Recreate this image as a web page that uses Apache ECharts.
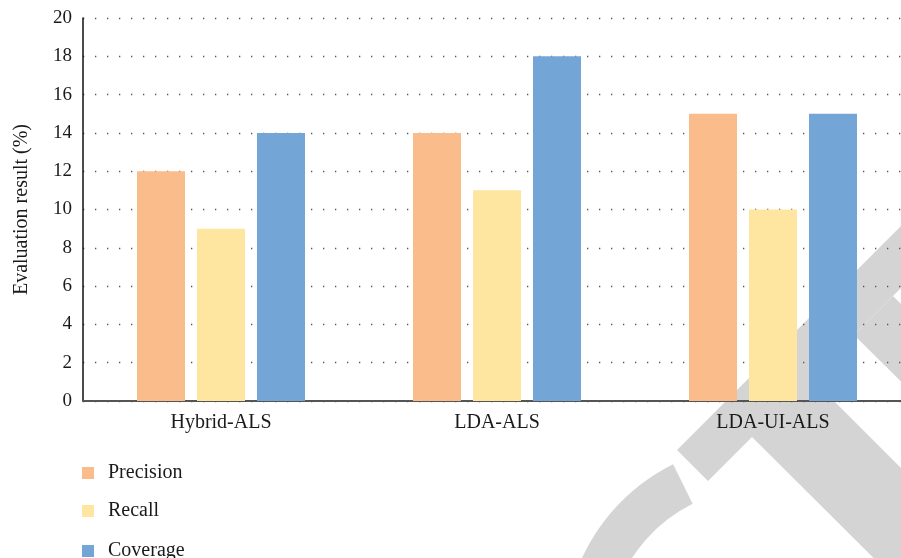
<!DOCTYPE html>
<html>
<head>
<meta charset="utf-8">
<script src="https://cdn.jsdelivr.net/npm/echarts@6/dist/echarts.min.js"></script>
<style>
  html, body { margin: 0; padding: 0; background: #ffffff; }
  #chart { width: 901px; height: 558px; }
</style>
</head>
<body>
<div id="chart"></div>
<script>
// Evaluation results of three ALS-based recommenders
const categories = ['Hybrid-ALS', 'LDA-ALS', 'LDA-UI-ALS'];
const precision = [12, 14, 15];
const recall = [9, 11, 10];
const coverage = [14, 18, 15];
const seriesNames = ['Precision', 'Recall', 'Coverage'];
const seriesColors = ['#F9BC8A', '#FEE6A1', '#73A6D7'];

const serif = '"Liberation Serif", "DejaVu Serif", serif';
const shadeColor = '#d4d4d4';

const chart = echarts.init(document.getElementById('chart'), null, { renderer: 'canvas' });

function barSeries(name, data, color) {
  return {
    name: name,
    type: 'bar',
    data: data,
    barWidth: 48,
    barGap: '25%',
    itemStyle: { color: color },
    emphasis: { disabled: true }
  };
}

// one legend row per series, stacked down the lower-left corner
const legendTops = [463, 501, 541];
const legends = seriesNames.map(function (name, i) {
  return {
    orient: 'vertical',
    left: 82,
    top: legendTops[i],
    padding: 0,
    itemWidth: 12,
    itemHeight: 12,
    icon: 'rect',
    textStyle: { fontFamily: serif, fontSize: 20, lineHeight: 12, color: '#1a1a1a', padding: [0, 0, 0, 9] },
    data: [name]
  };
});

chart.setOption({
  backgroundColor: '#ffffff',
  animation: false,
  grid: { left: 83, top: 18, right: -10, bottom: 157, containLabel: false, outerBoundsMode: 'none' },
  legend: legends,
  xAxis: {
    type: 'category',
    data: categories,
    axisLine: { lineStyle: { color: '#555555', width: 2 } },
    axisTick: { show: false },
    axisLabel: { fontFamily: serif, fontSize: 20, color: '#1a1a1a', margin: 12 }
  },
  yAxis: {
    type: 'value',
    min: 0,
    max: 20,
    interval: 2,
    name: 'Evaluation result (%)',
    nameLocation: 'middle',
    nameGap: 51,
    nameTextStyle: { fontFamily: serif, fontSize: 20, color: '#1a1a1a' },
    axisLine: { show: true, lineStyle: { color: '#111111', width: 1.5 } },
    axisTick: { show: false },
    axisLabel: { fontFamily: serif, fontSize: 19, color: '#1a1a1a', margin: 11 },
    splitLine: { show: true, lineStyle: { color: '#555555', width: 1.3, type: [1.3, 10.7] } }
  },
  graphic: [
    { type: 'polygon', z: -10, silent: true,
      shape: { points: [[677, 450], [708, 481], [960, 229], [960, 167]] },
      style: { fill: shadeColor } },
    { type: 'polygon', z: -10, silent: true,
      shape: { points: [[854, 335], [893, 296], [960, 362], [960, 440]] },
      style: { fill: shadeColor } },
    { type: 'polygon', z: -10, silent: true,
      shape: { points: [[780, 347], [752, 437], [960, 644], [960, 527]] },
      style: { fill: shadeColor } },
    { type: 'sector', z: -10, silent: true,
      shape: { cx: 760, cy: 640, r0: 152, r: 196, startAngle: -3.7, endAngle: -2.03 },
      style: { fill: shadeColor } }
  ],
  series: [
    barSeries(seriesNames[0], precision, seriesColors[0]),
    barSeries(seriesNames[1], recall, seriesColors[1]),
    barSeries(seriesNames[2], coverage, seriesColors[2])
  ]
});
</script>
</body>
</html>
